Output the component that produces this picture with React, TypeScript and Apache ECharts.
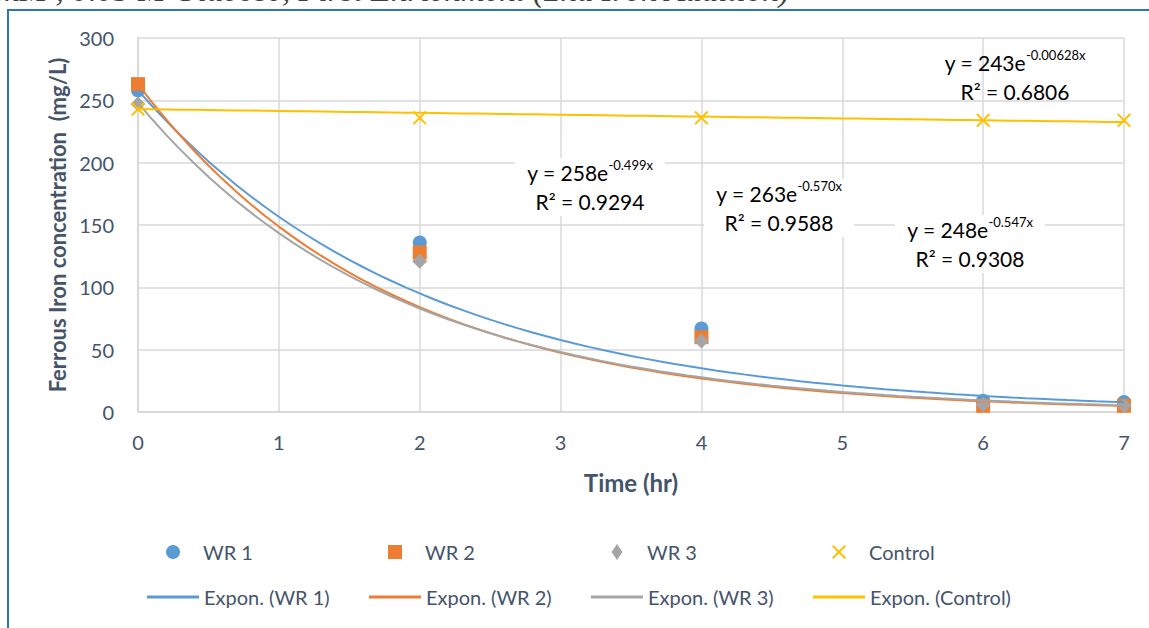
import React, { useEffect, useRef } from "react";
import * as echarts from "echarts";

const timeHr = [0, 2, 4, 6, 7];
const wr1 = [258, 136, 67, 9, 8];
const wr2 = [263, 128, 60, 5, 5];
const wr3 = [247, 121, 57, 6, 5];
const control = [243, 236, 236, 234, 234];

const seriesNames = ["WR 1", "WR 2", "WR 3", "Control"];
const trendNames = ["Expon. (WR 1)", "Expon. (WR 2)", "Expon. (WR 3)", "Expon. (Control)"];
const trendA = [258, 263, 248, 243];
const trendB = [-0.499, -0.57, -0.547, -0.00628];
const trendExp = ["-0.499x", "-0.570x", "-0.547x", "-0.00628x"];
const trendR2 = ["0.9294", "0.9588", "0.9308", "0.6806"];

const yTicks = [0, 50, 100, 150, 200, 250, 300];
const xTicks = [0, 1, 2, 3, 4, 5, 6, 7];

const colors = ["#5B9BD5", "#ED7D31", "#A5A5A5", "#FFC000"];
const symbols = [
  "circle",
  "rect",
  "diamond",
  "path://M0,1 L1,0 L5,4 L9,0 L10,1 L6,5 L10,9 L9,10 L5,6 L1,10 L0,9 L4,5 Z",
];
const txt = "#44546A";
const FONT = "Lato";

export default function App() {
  const ref = useRef<HTMLDivElement>(null);
  useEffect(() => {
    document.body.style.margin = "0";
    const chart = echarts.init(ref.current!, null, { renderer: "svg" });
    const data = [wr1, wr2, wr3, control];
    const scatter = data.map((vals, i) => ({
      name: seriesNames[i],
      type: "scatter",
      data: vals.map((v, j) => [timeHr[j], v]),
      symbol: symbols[i],
      symbolSize: i === 2 ? 15 : 14,
      itemStyle: { color: colors[i], opacity: 1 },
      z: 2,
    }));
    const xmax = xTicks[xTicks.length - 1];
    const trend = trendA.map((a, i) => {
      const pts: number[][] = [];
      for (let k = 0; k <= 70; k++) {
        const x = (k / 70) * xmax;
        pts.push([x, a * Math.exp(trendB[i] * x)]);
      }
      return {
        name: trendNames[i],
        type: "line",
        data: pts,
        showSymbol: false,
        symbol: "none",
        smooth: false,
        lineStyle: { color: colors[i], width: 2 },
        itemStyle: { color: colors[i] },
        z: 3,
      };
    });

    const legendLefts = [147, 369, 591, 813];
    const legends: any[] = [];
    seriesNames.forEach((n, i) => {
      const w = i === 2 ? 11 : 14;
      legends.push({
        data: [{ name: n, icon: symbols[i] }],
        left: legendLefts[i] + 26 - w / 2,
        top: 542,
        padding: 0,
        itemWidth: w,
        itemHeight: i === 2 ? 16 : 14,
        itemGap: 0,
        selectedMode: false,
        textStyle: { fontFamily: FONT, fontSize: 20, color: txt, padding: [0, 0, 0, 25 - w / 2] },
      });
    });
    trendNames.forEach((n, i) => {
      legends.push({
        data: [{ name: n, icon: "rect" }],
        left: legendLefts[i],
        top: 587,
        padding: 0,
        itemWidth: 52,
        itemHeight: 3,
        itemGap: 0,
        selectedMode: false,
        textStyle: { fontFamily: FONT, fontSize: 20, color: txt },
      });
    });

    const labelPos = [
      [590, 158, true],
      [779, 179, true],
      [970, 215, true],
      [1015, 48, false],
    ];
    const labels = trendA.map((a, i) => ({
      type: "text",
      x: labelPos[i][0] as number,
      y: labelPos[i][1] as number,
      z: 50,
      style: {
        text: `{a|y = ${a}e}{s|${trendExp[i]}}\n{a|R² = ${trendR2[i]}}`,
        align: "center",
        verticalAlign: "top",
        backgroundColor: labelPos[i][2] ? "#ffffff" : "transparent",
        padding: [0, 12, 0, 12],
        rich: {
          a: { fontFamily: FONT, fontSize: 21, color: txt, lineHeight: 29 },
          s: { fontFamily: FONT, fontSize: 13, color: txt, lineHeight: 29, verticalAlign: "top", padding: [0, 0, 8, 0] },
        },
      },
    }));

    chart.setOption({
      animation: false,
      backgroundColor: "#ffffff",
      grid: { left: 138, right: 25, top: 38, bottom: 216, containLabel: false },
      xAxis: {
        type: "value",
        min: 0,
        max: xmax,
        interval: 1,
        name: "Time (hr)",
        nameLocation: "middle",
        nameGap: 58,
        nameTextStyle: { fontFamily: FONT, fontSize: 24, fontWeight: "bold", color: txt },
        axisLine: { show: true, lineStyle: { color: "#D9D9D9", width: 2 } },
        axisTick: { show: false },
        splitLine: { show: true, lineStyle: { color: "#D9D9D9", width: 1.5 } },
        axisLabel: { fontFamily: FONT, fontSize: 20, color: txt, margin: 20 },
      },
      yAxis: {
        type: "value",
        min: yTicks[0],
        max: yTicks[yTicks.length - 1],
        interval: 50,
        name: "Ferrous Iron concentration  (mg/L)",
        nameLocation: "middle",
        nameGap: 68,
        nameTextStyle: { fontFamily: FONT, fontSize: 22, fontWeight: "bold", color: txt },
        axisLine: { show: true, lineStyle: { color: "#D9D9D9", width: 2 } },
        axisTick: { show: false },
        splitLine: { show: true, lineStyle: { color: "#D9D9D9", width: 1.5 } },
        axisLabel: { fontFamily: FONT, fontSize: 20, color: txt, margin: 24 },
      },
      legend: legends,
      series: [...scatter, ...trend],
      graphic: [
        {
          type: "text",
          x: -4,
          y: 6,
          z: 100,
          style: {
            text: "mM , 0.05 M Glucose, First Enrichment (2nd Iron Addition)",
            fontFamily: "Liberation Serif",
            fontStyle: "italic",
            fontSize: 33,
            fill: "#404040",
            verticalAlign: "bottom",
            align: "left",
          },
        },
        {
          type: "rect",
          shape: { x: 8, y: 10, width: 1300, height: 800 },
          style: { fill: "transparent", stroke: "#2E75B6", lineWidth: 2 },
          z: 100,
        },
        ...labels,
      ],
    });
    return () => chart.dispose();
  }, []);
  return <div ref={ref} style={{ width: 1149, height: 628 }} />;
}
